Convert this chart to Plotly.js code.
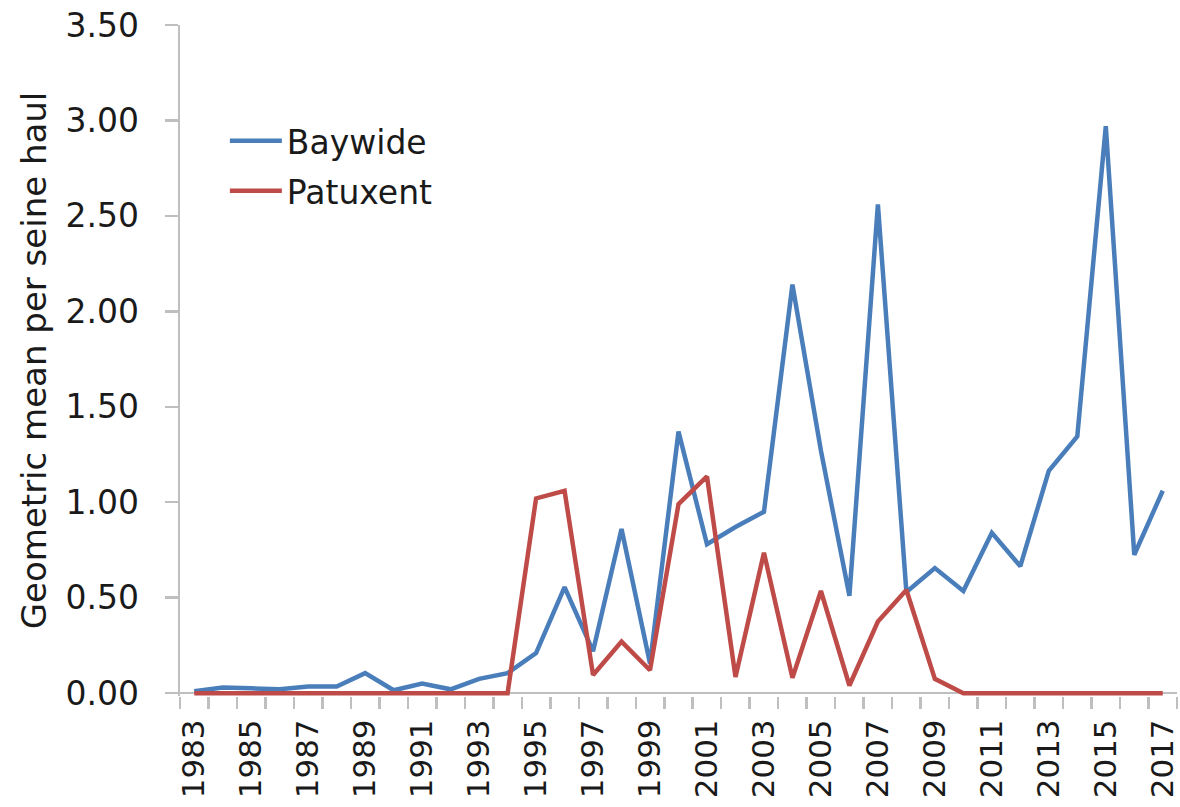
<!DOCTYPE html>
<html>
<head>
<meta charset="utf-8">
<script src="https://cdn.plot.ly/plotly-3.0.1.min.js"></script>
<style>
html,body{margin:0;padding:0;background:#fff;}
#chart{width:1180px;height:807px;}
</style>
</head>
<body>
<div id="chart"></div>
<script>
const years = [1983,1984,1985,1986,1987,1988,1989,1990,1991,1992,1993,1994,1995,1996,1997,1998,1999,2000,2001,2002,2003,2004,2005,2006,2007,2008,2009,2010,2011,2012,2013,2014,2015,2016,2017];
const baywide = [0.01,0.03,0.025,0.02,0.035,0.035,0.105,0.015,0.05,0.02,0.075,0.105,0.21,0.555,0.22,0.86,0.155,1.37,0.78,0.87,0.95,2.14,1.27,0.51,2.56,0.53,0.655,0.535,0.84,0.665,1.165,1.345,2.97,0.725,1.06];
const patuxent = [0,0,0,0,0,0,0,0,0,0,0,0,1.02,1.06,0.095,0.27,0.12,0.99,1.135,0.085,0.735,0.08,0.535,0.04,0.375,0.54,0.075,0,0,0,0,0,0,0,0];
const xTickVals = [1983,1985,1987,1989,1991,1993,1995,1997,1999,2001,2003,2005,2007,2009,2011,2013,2015,2017];
const xTickText = ["1983","1985","1987","1989","1991","1993","1995","1997","1999","2001","2003","2005","2007","2009","2011","2013","2015","2017"];
const yTickVals = [0,0.5,1,1.5,2,2.5,3,3.5];
const yTitle = "Geometric mean per seine haul";

const FONT = "DejaVu Sans";
const AXIS = "#bfbfbf";
const TXT = "#1a1a1a";

const traces = [
  {x: years, y: baywide, name: "Baywide", type: "scatter", mode: "lines",
   line: {color: "#4a7ebb", width: 4.5}, legendgroup: "a"},
  {x: years, y: patuxent, name: "Patuxent", type: "scatter", mode: "lines",
   line: {color: "#be4b48", width: 4.5}, legendgroup: "b"}
];

const layout = {
  width: 1180, height: 807,
  margin: {l: 180, r: 2.5, t: 25, b: 111, pad: 0},
  paper_bgcolor: "#fff", plot_bgcolor: "#fff",
  font: {family: FONT, size: 33, color: TXT},
  showlegend: true,
  legend: {x: 0.045, y: 0.869, xanchor: "left", yanchor: "top",
           bgcolor: "rgba(0,0,0,0)", borderwidth: 0, itemwidth: 52,
           tracegroupgap: 4, font: {family: FONT, size: 33, color: TXT}},
  xaxis: {
    range: [1982.5, 2017.5], showgrid: false, zeroline: false, showline: false,
    tickmode: "array", tickvals: xTickVals, ticktext: xTickText, tickangle: -90,
    ticks: "outside", ticklen: 12, tickwidth: 2.5, tickcolor: "rgba(0,0,0,0)",
    ticklabelstandoff: -2, ticklabeloverflow: "allow",
    tickfont: {family: FONT, size: 31, color: TXT},
    minor: {tick0: 1982.5, dtick: 1, ticks: "outside", ticklen: 12, tickwidth: 2.5, tickcolor: AXIS, showgrid: false}
  },
  yaxis: {
    range: [-0.015, 3.5], showgrid: false,
    zeroline: true, zerolinecolor: AXIS, zerolinewidth: 2.7,
    showline: true, linecolor: AXIS, linewidth: 2.5,
    tickmode: "array", tickvals: yTickVals, tickformat: ".2f",
    ticks: "outside", ticklen: 13, tickwidth: 2.5, tickcolor: AXIS,
    ticklabelstandoff: 19,
    tickfont: {family: FONT, size: 33, color: TXT},
    title: {text: yTitle, font: {family: FONT, size: 34, color: TXT}, standoff: 9}
  }
};

Plotly.newPlot("chart", traces, layout, {displayModeBar: false, staticPlot: true});
</script>
</body>
</html>
